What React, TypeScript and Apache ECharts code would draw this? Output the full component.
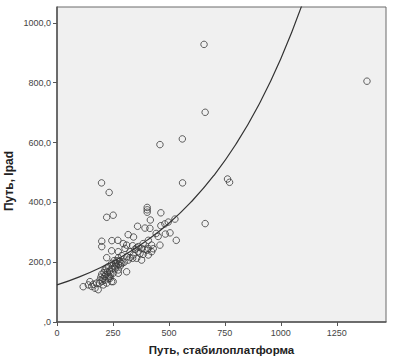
import React, { useEffect, useRef } from "react";
import * as echarts from "echarts";

// Scatter: [Путь, стабилоплатформа, Путь, Ipad]
const points: number[][] = [
  [657, 928], [662, 701], [560, 612], [460, 593], [561, 465], [762, 478], [771, 467],
  [1385, 805], [662, 329], [199, 465], [233, 433], [222, 350], [251, 357],
  [403, 383], [403, 375], [403, 367], [464, 365], [417, 341], [527, 344],
  [360, 320], [393, 314], [415, 313], [464, 322], [482, 328], [497, 334],
  [443, 296], [452, 286], [484, 294], [505, 298], [533, 273], [318, 292], [342, 284],
  [200, 270], [200, 252], [245, 272], [272, 273], [296, 262], [460, 257], [408, 273],
  [385, 262], [423, 257], [430, 245], [403, 240], [338, 255], [356, 248], [378, 246],
  [311, 257], [304, 246], [326, 235], [363, 252], [393, 243], [348, 243], [363, 235],
  [408, 246], [244, 238], [274, 235], [289, 222], [222, 215], [385, 226], [408, 224],
  [371, 229], [423, 235], [378, 207], [326, 215], [318, 207], [338, 213], [356, 213],
  [341, 224], [311, 218], [274, 215], [280, 202], [285, 198], [268, 205], [275, 192],
  [290, 195], [311, 168], [274, 163], [251, 135], [117, 118], [147, 135], [162, 126],
  [155, 119], [177, 130], [170, 113], [184, 108], [140, 124], [192, 140], [214, 152],
  [207, 124], [222, 130], [237, 146], [244, 135], [244, 196], [229, 185], [214, 174],
  [259, 185], [229, 157], [251, 163], [274, 174], [200, 160], [210, 165], [235, 170],
  [260, 178], [250, 188], [230, 145], [215, 140], [196, 150], [265, 190], [300, 200],
  [255, 205], [190, 130], [240, 160], [220, 180], [205, 145], [225, 168], [245, 178],
  [262, 196], [283, 188], [236, 152], [202, 136], [218, 158],
];

// Fitted curve
const curve: number[][] = [
  [0, 124], [100, 151], [200, 184], [300, 223], [400, 272], [500, 330], [600, 402],
  [700, 489], [800, 595], [900, 724], [1000, 880], [1100, 1071],
];

const xTicks = [0, 250, 500, 750, 1000, 1250];
const yTicks = [0, 200, 400, 600, 800, 1000];
const xName = "Путь, стабилоплатформа";
const yName = "Путь, Ipad";

export default function App() {
  const ref = useRef<HTMLDivElement>(null);
  useEffect(() => {
    if (!ref.current) return;
    const chart = echarts.init(ref.current, undefined, { renderer: "svg" });
    const labelFont = { fontFamily: "Liberation Sans", fontSize: 9, color: "#444" };
    chart.setOption({
      animation: false,
      backgroundColor: "#fff",
      grid: {
        left: 57, top: 7, right: 8, bottom: 37,
        show: true, backgroundColor: "#f0f0f0", borderColor: "#6a6a6a", borderWidth: 1,
      },
      xAxis: {
        type: "value", min: 0, max: 1470,
        name: xName, nameLocation: "middle", nameGap: 22,
        nameTextStyle: { fontFamily: "Liberation Sans", fontWeight: "bold", fontSize: 11.5, color: "#222" },
        axisLine: { show: true, onZero: false, lineStyle: { color: "#555", width: 1.5 } },
        axisTick: { show: true, length: 4, customValues: xTicks, lineStyle: { color: "#555" } },
        axisLabel: { ...labelFont, margin: 6, customValues: xTicks, formatter: (v: number) => String(v) },
        splitLine: { show: false },
      },
      yAxis: {
        type: "value", min: 0, max: 1053,
        axisLine: { show: true, onZero: false, lineStyle: { color: "#555", width: 1.5 } },
        axisTick: { show: true, length: 4, customValues: yTicks, lineStyle: { color: "#555" } },
        axisLabel: {
          ...labelFont, margin: 6, customValues: yTicks,
          formatter: (v: number) => (v === 0 ? ",0" : v.toFixed(1).replace(".", ",")),
        },
        splitLine: { show: false },
      },
      graphic: [
        {
          type: "text", left: 3, top: 151, rotation: Math.PI / 2,
          style: {
            text: yName, fontFamily: "Liberation Sans", fontWeight: "bold", fontSize: 12,
            fill: "#222",
          },
        },
      ],
      series: [
        {
          type: "scatter", data: points, symbol: "circle", symbolSize: 6.5,
          itemStyle: { color: "rgba(0,0,0,0)", borderColor: "#3a3a3a", borderWidth: 1, opacity: 0.8 },
          emphasis: { disabled: true }, silent: true,
        },
        {
          type: "line", data: curve, smooth: true, showSymbol: false, clip: true,
          lineStyle: { color: "#333", width: 1.2 }, silent: true, z: 3,
        },
      ],
    });
    return () => chart.dispose();
  }, []);
  return (
    <div
      ref={ref}
      style={{ position: "fixed", left: 0, top: 0, width: 394, height: 361 }}
    />
  );
}
